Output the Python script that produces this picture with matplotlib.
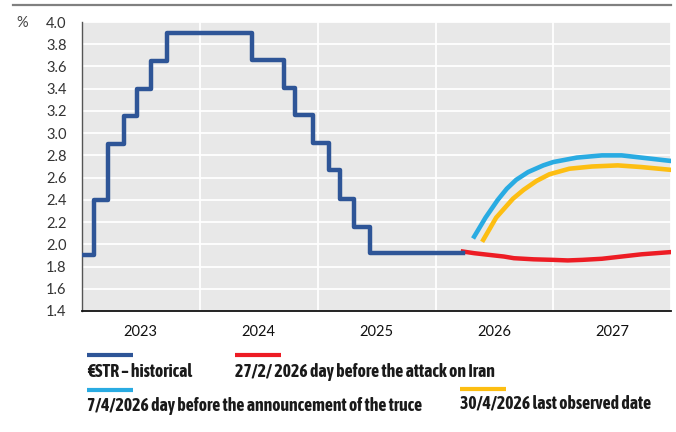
import numpy as np
import pandas as pd
import matplotlib
matplotlib.use("Agg")
import matplotlib.pyplot as plt
import matplotlib.dates as mdates
from matplotlib.lines import Line2D
from matplotlib import font_manager

# €STR storico (date di variazione e livello)
estr_dates = ['2023-01-01', '2023-02-08', '2023-03-22', '2023-05-10', '2023-06-21',
              '2023-08-02', '2023-09-20', '2024-06-12', '2024-09-18', '2024-10-23',
              '2024-12-18', '2025-02-05', '2025-03-12', '2025-04-23', '2025-06-11',
              '2026-03-27']
estr_vals = [1.90, 2.40, 2.90, 3.15, 3.40, 3.65, 3.90, 3.66, 3.41, 3.16,
             2.91, 2.67, 2.41, 2.16, 1.925, 1.925]

# curva forward 27/2/2026
feb_dates = ['2026-03-27', '2026-05-01', '2026-07-01', '2026-08-01', '2026-09-01',
             '2026-11-01', '2027-01-01', '2027-02-15', '2027-04-01', '2027-06-01',
             '2027-08-01', '2027-10-01', '2027-12-31']
feb_vals = [1.935, 1.92, 1.90, 1.89, 1.875, 1.865, 1.86, 1.855, 1.86, 1.87,
            1.89, 1.91, 1.93]

# curva forward 7/4/2026
apr7_dates = ['2026-05-01', '2026-06-05', '2026-07-13', '2026-08-10', '2026-09-08',
              '2026-10-15', '2026-12-01', '2027-01-01', '2027-03-15', '2027-06-01',
              '2027-08-01', '2027-10-01', '2027-12-31']
apr7_vals = [2.07, 2.24, 2.40, 2.50, 2.58, 2.65, 2.71, 2.74, 2.78, 2.80,
             2.80, 2.78, 2.75]

# curva forward 30/4/2026
apr30_dates = ['2026-05-29', '2026-07-08', '2026-08-29', '2026-10-01', '2026-11-10',
               '2026-12-20', '2027-02-20', '2027-05-01', '2027-07-20', '2027-10-01',
               '2027-12-31']
apr30_vals = [2.04, 2.24, 2.41, 2.49, 2.57, 2.63, 2.68, 2.70, 2.71, 2.695, 2.67]

years = [2023, 2024, 2025, 2026, 2027]
legend_labels = ['€STR – historical',
                 '27/2/ 2026 day before the attack on Iran',
                 '7/4/2026 day before the announcement of the truce',
                 '30/4/2026 last observed date']

c_hist = '#2e5597'
c_feb = '#ed1c24'
c_apr7 = '#29abe2'
c_apr30 = '#fdbe12'

# font: cerco una famiglia condensed con il grassetto
fonts = font_manager.fontManager.ttflist
names = {f.name for f in fonts}
tick_font = 'Lato' if 'Lato' in names else 'DejaVu Sans'
weights = {}
for f in fonts:
    if 'Condensed' in f.name or 'Narrow' in f.name:
        w = f.weight if isinstance(f.weight, int) else 400
        weights[f.name] = max(weights.get(f.name, 0), w)
bold_narrow = sorted(n for n, w in weights.items() if w >= 600)
if bold_narrow:
    leg_font = bold_narrow[0]
elif weights:
    leg_font = sorted(weights)[0]
else:
    leg_font = tick_font

W, H = 676, 432
fig = plt.figure(figsize=(W / 100, H / 100), dpi=100)


def fx(px):
    return px / W


def fy(py):
    return 1 - py / H


ax = fig.add_axes([fx(82), fy(311), fx(671) - fx(82), fy(22) - fy(311)])
ax.set_facecolor('#e8e8e8')

ax.plot(pd.to_datetime(feb_dates), feb_vals, color=c_feb, lw=3.2, zorder=3)
ax.plot(pd.to_datetime(apr7_dates), apr7_vals, color=c_apr7, lw=3.3, zorder=3)
ax.plot(pd.to_datetime(apr30_dates), apr30_vals, color=c_apr30, lw=3.3, zorder=3)
ax.step(pd.to_datetime(estr_dates), estr_vals, where='post', color=c_hist, lw=3.2, zorder=4)

ax.set_xlim(pd.Timestamp('2023-01-01'), pd.Timestamp('2028-01-01'))
ax.set_ylim(1.4, 4.0)
ax.set_yticks(np.arange(1.4, 4.01, 0.2))
ax.set_yticklabels([f'{v:.1f}' for v in np.arange(1.4, 4.01, 0.2)],
                   fontsize=10.5, color='#333333', family=tick_font)

ax.xaxis.set_major_locator(mdates.YearLocator())
ax.xaxis.set_major_formatter(plt.NullFormatter())
ax.set_xticks([pd.Timestamp(f'{y}-07-02') for y in years], minor=True)
ax.set_xticklabels([str(y) for y in years], minor=True,
                   fontsize=10.5, color='#111111', family=tick_font)
ax.tick_params(axis='x', which='both', length=0, pad=10)
ax.tick_params(axis='y', length=0, pad=11)

ax.grid(True, which='major', color='white', lw=1.3)
ax.set_axisbelow(True)
for s in ['top', 'right']:
    ax.spines[s].set_visible(False)
ax.spines['left'].set_color('#555555')
ax.spines['left'].set_linewidth(1)
ax.spines['bottom'].set_color('#111111')
ax.spines['bottom'].set_linewidth(1.3)

# linea grigia in alto
fig.add_artist(Line2D([fx(13), fx(671)], [fy(5), fy(5)], transform=fig.transFigure,
                      color='#808080', lw=1.6))
fig.text(fx(16), fy(23), '%', fontsize=10.5, color='#444444', family=tick_font,
         ha='left', va='center')

# dimensione del testo della legenda: la riga piu lunga deve occupare ~332 px
probe = fig.text(0, 0, legend_labels[2], fontsize=10, fontweight='bold', family=leg_font)
fig.canvas.draw()
leg_size = 10 * 332 / probe.get_window_extent().width
probe.remove()

# legenda manuale
leg = [(c_hist, 87, 355, 372), (c_feb, 235, 355, 372),
       (c_apr7, 87, 390, 406), (c_apr30, 460, 389, 404)]
for (col, x0, ys, yt), lab in zip(leg, legend_labels):
    fig.add_artist(Line2D([fx(x0), fx(x0 + 46)], [fy(ys), fy(ys)], transform=fig.transFigure,
                          color=col, lw=3, solid_capstyle='butt'))
    fig.text(fx(x0), fy(yt), lab, fontsize=leg_size, fontweight='bold', color='#1a1a1a',
             family=leg_font, ha='left', va='center')

fig.savefig('out.png', dpi=100)
